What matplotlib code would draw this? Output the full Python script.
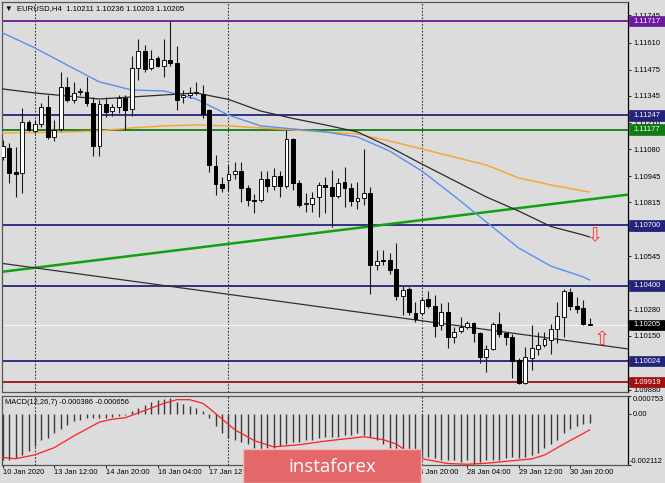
import numpy as np
import matplotlib
matplotlib.use('Agg')
import matplotlib.pyplot as plt
from matplotlib.patches import Rectangle
from matplotlib.transforms import IdentityTransform, blended_transform_factory

plt.rcParams['font.family'] = ['Liberation Sans', 'DejaVu Sans']

# ---------------- data (EURUSD H4) ----------------
opens = [1.11040,1.11085,1.10965,1.10960,1.11214,1.11170,1.11204,1.11289,1.11140,1.11180,
1.11389,1.11324,1.11364,1.11364,1.11309,1.11095,1.11304,1.11269,1.11289,1.11334,
1.11279,1.11483,1.11568,1.11483,1.11533,1.11493,1.11523,1.11508,1.11339,1.11349,
1.11359,1.11354,1.11274,1.10995,1.10905,1.10925,1.10955,1.10970,1.10885,1.10826,
1.10826,1.10930,1.10895,1.10945,1.10895,1.11130,1.10910,1.10806,1.10806,1.10841,
1.10900,1.10890,1.10846,1.10915,1.10885,1.10821,1.10836,1.10860,1.10502,1.10527,
1.10527,1.10482,1.10348,1.10383,1.10263,1.10263,1.10333,1.10298,1.10203,1.10268,
1.10144,1.10174,1.10193,1.10213,1.10164,1.10044,1.10084,1.10208,1.10164,1.10144,
1.10029,1.09914,1.10039,1.10084,1.10104,1.10129,1.10183,1.10243,1.10368,1.10298,
1.10288,1.10211]
highs = [1.11125,1.11110,1.11090,1.11284,1.11224,1.11224,1.11309,1.11349,1.11224,1.11463,
1.11438,1.11413,1.11384,1.11438,1.11339,1.11324,1.11339,1.11304,1.11349,1.11349,
1.11543,1.11628,1.11598,1.11573,1.11543,1.11628,1.11717,1.11593,1.11374,1.11389,
1.11413,1.11399,1.11279,1.11050,1.10940,1.11000,1.11015,1.11015,1.10900,1.10856,
1.10970,1.10970,1.10985,1.10970,1.11174,1.11135,1.10925,1.10860,1.10865,1.10915,
1.10940,1.10975,1.10935,1.10990,1.10910,1.10915,1.11080,1.10890,1.10577,1.10577,
1.10562,1.10612,1.10398,1.10393,1.10318,1.10343,1.10373,1.10353,1.10313,1.10318,
1.10193,1.10243,1.10223,1.10218,1.10169,1.10104,1.10218,1.10268,1.10169,1.10159,
1.10039,1.10094,1.10203,1.10169,1.10169,1.10208,1.10318,1.10383,1.10388,1.10343,
1.10328,1.10236]
lows = [1.11025,1.10910,1.10840,1.10860,1.11170,1.11160,1.11190,1.11130,1.11120,1.11170,
1.11314,1.11309,1.11349,1.11294,1.11045,1.11045,1.11239,1.11244,1.11259,1.11174,
1.11244,1.11423,1.11463,1.11473,1.11488,1.11438,1.11493,1.11274,1.11309,1.11334,
1.11349,1.11234,1.10965,1.10850,1.10865,1.10870,1.10930,1.10816,1.10796,1.10761,
1.10816,1.10865,1.10875,1.10840,1.10885,1.10875,1.10791,1.10766,1.10766,1.10741,
1.10761,1.10691,1.10836,1.10791,1.10796,1.10781,1.10801,1.10358,1.10477,1.10502,
1.10457,1.10328,1.10253,1.10253,1.10218,1.10253,1.10288,1.10144,1.10178,1.10089,
1.10114,1.10164,1.10183,1.10119,1.10014,1.09969,1.10079,1.10144,1.10104,1.09939,
1.09909,1.09909,1.09979,1.10054,1.10094,1.10059,1.10114,1.10144,1.10278,1.10263,
1.10203,1.10203]
closes = [1.11095,1.10960,1.10955,1.11214,1.11174,1.11204,1.11289,1.11140,1.11174,1.11389,
1.11324,1.11359,1.11369,1.11309,1.11095,1.11304,1.11264,1.11289,1.11334,1.11274,
1.11483,1.11568,1.11478,1.11528,1.11493,1.11523,1.11508,1.11324,1.11349,1.11359,
1.11362,1.11254,1.11000,1.10905,1.10885,1.10955,1.10970,1.10885,1.10826,1.10822,
1.10930,1.10895,1.10945,1.10895,1.11130,1.10910,1.10801,1.10811,1.10836,1.10900,
1.10890,1.10846,1.10910,1.10885,1.10821,1.10836,1.10860,1.10502,1.10522,1.10522,
1.10477,1.10348,1.10378,1.10268,1.10233,1.10328,1.10298,1.10198,1.10268,1.10144,
1.10169,1.10193,1.10213,1.10164,1.10044,1.10084,1.10208,1.10159,1.10144,1.10024,
1.09914,1.10044,1.10089,1.10104,1.10134,1.10183,1.10248,1.10373,1.10298,1.10283,
1.10208,1.10205]

ma_idx = [0,5,10,15,20,25,30,35,40,45,50,55,60,65,70,75,80,85,90,91]
blue_ma = [1.11658,1.11583,1.11498,1.11414,1.11374,1.11369,1.11329,1.11249,1.11195,1.11180,
           1.11165,1.11140,1.11070,1.10970,1.10846,1.10716,1.10587,1.10497,1.10443,1.10428]
black_ma = [1.11379,1.11359,1.11344,1.11329,1.11339,1.11349,1.11359,1.11327,1.11269,1.11232,
            1.11200,1.11165,1.11090,1.11005,1.10923,1.10841,1.10771,1.10694,1.10652,1.10642]
orange_ma = [1.11160,1.11162,1.11165,1.11170,1.11185,1.11195,1.11200,1.11195,1.11185,1.11175,
             1.11165,1.11155,1.11120,1.11080,1.11040,1.11000,1.10936,1.10901,1.10871,1.10866]

levels = [1.11717, 1.11247, 1.11177, 1.10700, 1.10400, 1.10024, 1.09919]
level_colors = ['#6a1a9a', '#23237a', '#137a13', '#23237a', '#23237a', '#23237a', '#a01010']

green_trend = ([0, 96], [1.10469, 1.10849])
black_trend = ([0, 90], [1.10510, 1.10115])

week_starts = [5, 35, 65]
bid = 1.10205
sell_arrow_price = 1.10647
buy_arrow_price = 1.10129

price_ticks = [1.11745,1.11610,1.11475,1.11345,1.11210,1.11080,1.10945,1.10815,
               1.10680,1.10545,1.10280,1.10150,1.09880]

time_idx = [0, 8, 16, 24, 32, 40, 48, 56, 64, 72, 80, 88]
time_labels = ['10 Jan 2020', '13 Jan 12:00', '14 Jan 20:00', '16 Jan 04:00', '17 Jan 12:00',
               '20 Jan 20:00', '22 Jan 04:00', '23 Jan 12:00', '24 Jan 20:00', '28 Jan 04:00',
               '29 Jan 12:00', '30 Jan 20:00']

macd_hist = [-0.00192,-0.00192,-0.00184,-0.00169,-0.00154,-0.00131,-0.00109,-0.00101,-0.00079,-0.00063,
-0.00045,-0.00030,-0.00026,-0.00018,-0.00018,-0.00018,-0.00014,-0.00011,-0.00008,-0.00003,
0.00012,0.00027,0.00039,0.00050,0.00057,0.00063,0.00068,0.00050,0.00042,0.00035,
0.00027,0.00012,-0.00018,-0.00048,-0.00079,-0.00101,-0.00109,-0.00116,-0.00124,-0.00139,
-0.00146,-0.00139,-0.00139,-0.00131,-0.00124,-0.00116,-0.00116,-0.00109,-0.00109,-0.00101,
-0.00094,-0.00094,-0.00094,-0.00086,-0.00086,-0.00079,-0.00086,-0.00094,-0.00109,-0.00124,
-0.00139,-0.00154,-0.00162,-0.00169,-0.00177,-0.00177,-0.00177,-0.00184,-0.00192,-0.00192,
-0.00192,-0.00199,-0.00192,-0.00207,-0.00199,-0.00192,-0.00192,-0.00192,-0.00184,-0.00177,
-0.00184,-0.00177,-0.00169,-0.00162,-0.00139,-0.00124,-0.00109,-0.00079,-0.00063,-0.00048,
-0.00041,-0.000386]
sig_idx = [0,2,5,8,11,15,17,19,22,25,27,29,31,32,34,36,39,42,46,50,52,56,59,61,63,65,69,72,75,78,82,84,87,91]
sig_val = [-0.00180,-0.00185,-0.00169,-0.00139,-0.00091,-0.00033,-0.00021,-0.00015,0.00015,0.00045,
           0.00060,0.00060,0.00045,0.00025,-0.00020,-0.00065,-0.00110,-0.00136,-0.00127,-0.00112,
           -0.00106,-0.00094,-0.00106,-0.00124,-0.00160,-0.00185,-0.00205,-0.00208,-0.00204,-0.00196,
           -0.00186,-0.00170,-0.00124,-0.000656]
macd_ticks = [0.000753, 0.0, -0.002112]

# ---------------- figure ----------------
W, H = 665, 483
BG = '#dcdcdc'
fig = plt.figure(figsize=(W / 100, H / 100), dpi=100, facecolor=BG)

def rect(l, t, r, b):
    return [l / W, 1 - b / H, (r - l) / W, (b - t) / H]

ax = fig.add_axes(rect(2, 2, 628, 392), facecolor=BG)
mx = fig.add_axes(rect(2, 396, 628, 465), facecolor=BG, sharex=ax)

ax.set_xlim(-0.11, 96.95)
ax.set_ylim(1.09870, 1.11812)
mx.set_ylim(macd_ticks[2], macd_ticks[0])

for a in (ax, mx):
    for s in ('left', 'top', 'bottom'):
        a.spines[s].set_color('#555555')
        a.spines[s].set_linewidth(0.9)
    a.spines['right'].set_color('black')
    a.spines['right'].set_linewidth(0.9)

# horizontal levels
for lv, col in zip(levels, level_colors):
    ax.axhline(lv, color=col, lw=1.3, zorder=2)
ax.axhline(bid, color='#f4f4f4', lw=0.8, zorder=1.5)

# week separators
for a in (ax, mx):
    for w in week_starts:
        a.axvline(w, color='#333333', lw=0.8, ls=(0, (1.5, 1.5)), zorder=1)

# trendlines
ax.axline((green_trend[0][0], green_trend[1][0]), (green_trend[0][1], green_trend[1][1]),
          color='#13a013', lw=1.8, zorder=2.5)
ax.axline((black_trend[0][0], black_trend[1][0]), (black_trend[0][1], black_trend[1][1]),
          color='#303030', lw=0.9, zorder=2.5)

# moving averages
ax.plot(ma_idx, orange_ma, color='#f5a83a', lw=1.1, zorder=3)
ax.plot(ma_idx, blue_ma, color='#5a8ef0', lw=1.0, zorder=3)
ax.plot(ma_idx, black_ma, color='#2a2a2a', lw=0.9, zorder=3)

# candles
o = np.array(opens); c = np.array(closes); h = np.array(highs); l = np.array(lows)
x = np.arange(len(c))
up = c >= o
ax.vlines(x, l, h, color='#1a1a1a', lw=0.8, zorder=4)
bb = np.minimum(o, c)
bh = np.maximum(np.abs(c - o), 0.000012)
ax.bar(x[up], bh[up], bottom=bb[up], width=0.6, color='white', edgecolor='#111111',
       linewidth=0.7, zorder=5)
ax.bar(x[~up], bh[~up], bottom=bb[~up], width=0.6, color='black', edgecolor='black',
       linewidth=0.7, zorder=5)

# arrows
last = len(c) - 1
ax.text(last + 0.8, sell_arrow_price, '\u21e9', color='#ff3a3a', fontsize=14,
        ha='center', va='center', family=['DejaVu Sans'], zorder=6)
ax.text(last + 1.9, buy_arrow_price, '\u21e7', color='#ff3a3a', fontsize=14,
        ha='center', va='center', family=['DejaVu Sans'], zorder=6)

# price axis
ax.yaxis.tick_right()
ax.set_yticks(price_ticks)
ax.set_yticklabels([f'{v:.5f}' for v in price_ticks])
ax.tick_params(axis='y', labelsize=5.4, length=2.5, width=0.6, pad=1.6, colors='black')
ax.tick_params(axis='x', bottom=False, labelbottom=False)

# MACD panel
mx.vlines(x, 0, macd_hist, color='#3a3a3a', lw=1.0, zorder=3)
mx.plot(sig_idx, sig_val, color='#ff2020', lw=0.9, zorder=4)
mx.yaxis.tick_right()
mx.set_yticks(macd_ticks)
mx.set_yticklabels([])
mx.tick_params(axis='y', length=2.5, width=0.6)
tr = blended_transform_factory(mx.transAxes, mx.transData)
mx.text(1.008, macd_ticks[0], '0.000753', transform=tr, fontsize=5.4, va='top', ha='left')
mx.text(1.008, macd_ticks[1], '0.00', transform=tr, fontsize=5.4, va='center', ha='left')
mx.text(1.003, macd_ticks[2], '-0.002112', transform=tr, fontsize=5.3, va='bottom', ha='left')
mx.set_xticks(time_idx)
mx.set_xticklabels(time_labels, ha='left', fontsize=5.4)
mx.tick_params(axis='x', length=2, width=0.6, pad=1.0)

# texts
fig.text(5 / W, 1 - 8.5 / H, '\u25bc  EURUSD,H4  1.10211 1.10236 1.10203 1.10205',
         fontsize=5.6, va='center', ha='left')
fig.text(5 / W, 1 - 402 / H, 'MACD(12,26,7) -0.000386 -0.000656',
         fontsize=5.4, va='center', ha='left')

# price label boxes (drawn in pixel space)
fig.canvas.draw()
boxes = list(zip(levels, level_colors)) + [(bid, '#000000')]
for lv, col in boxes:
    yd = ax.transData.transform((0, lv))[1]
    fig.add_artist(Rectangle((629, yd - 5.2), 36, 10.4, transform=IdentityTransform(),
                             facecolor=col, edgecolor=col, lw=0.5, zorder=20))
    fig.text(647 / W, yd / H, f'{lv:.5f}', color='white', fontsize=5.4,
             ha='center', va='center', zorder=21)

# watermark
fig.add_artist(Rectangle((243, 0), 178, 34, transform=IdentityTransform(),
                         facecolor='#e4686a', edgecolor='#f2b8b8', lw=1.0, zorder=30))
fig.text(332 / W, 16 / H, 'instaforex', color='white', fontsize=13.5,
         family=['Open Sans', 'DejaVu Sans'], ha='center', va='center', zorder=31)

fig.savefig('out.png', dpi=100, facecolor=BG)
